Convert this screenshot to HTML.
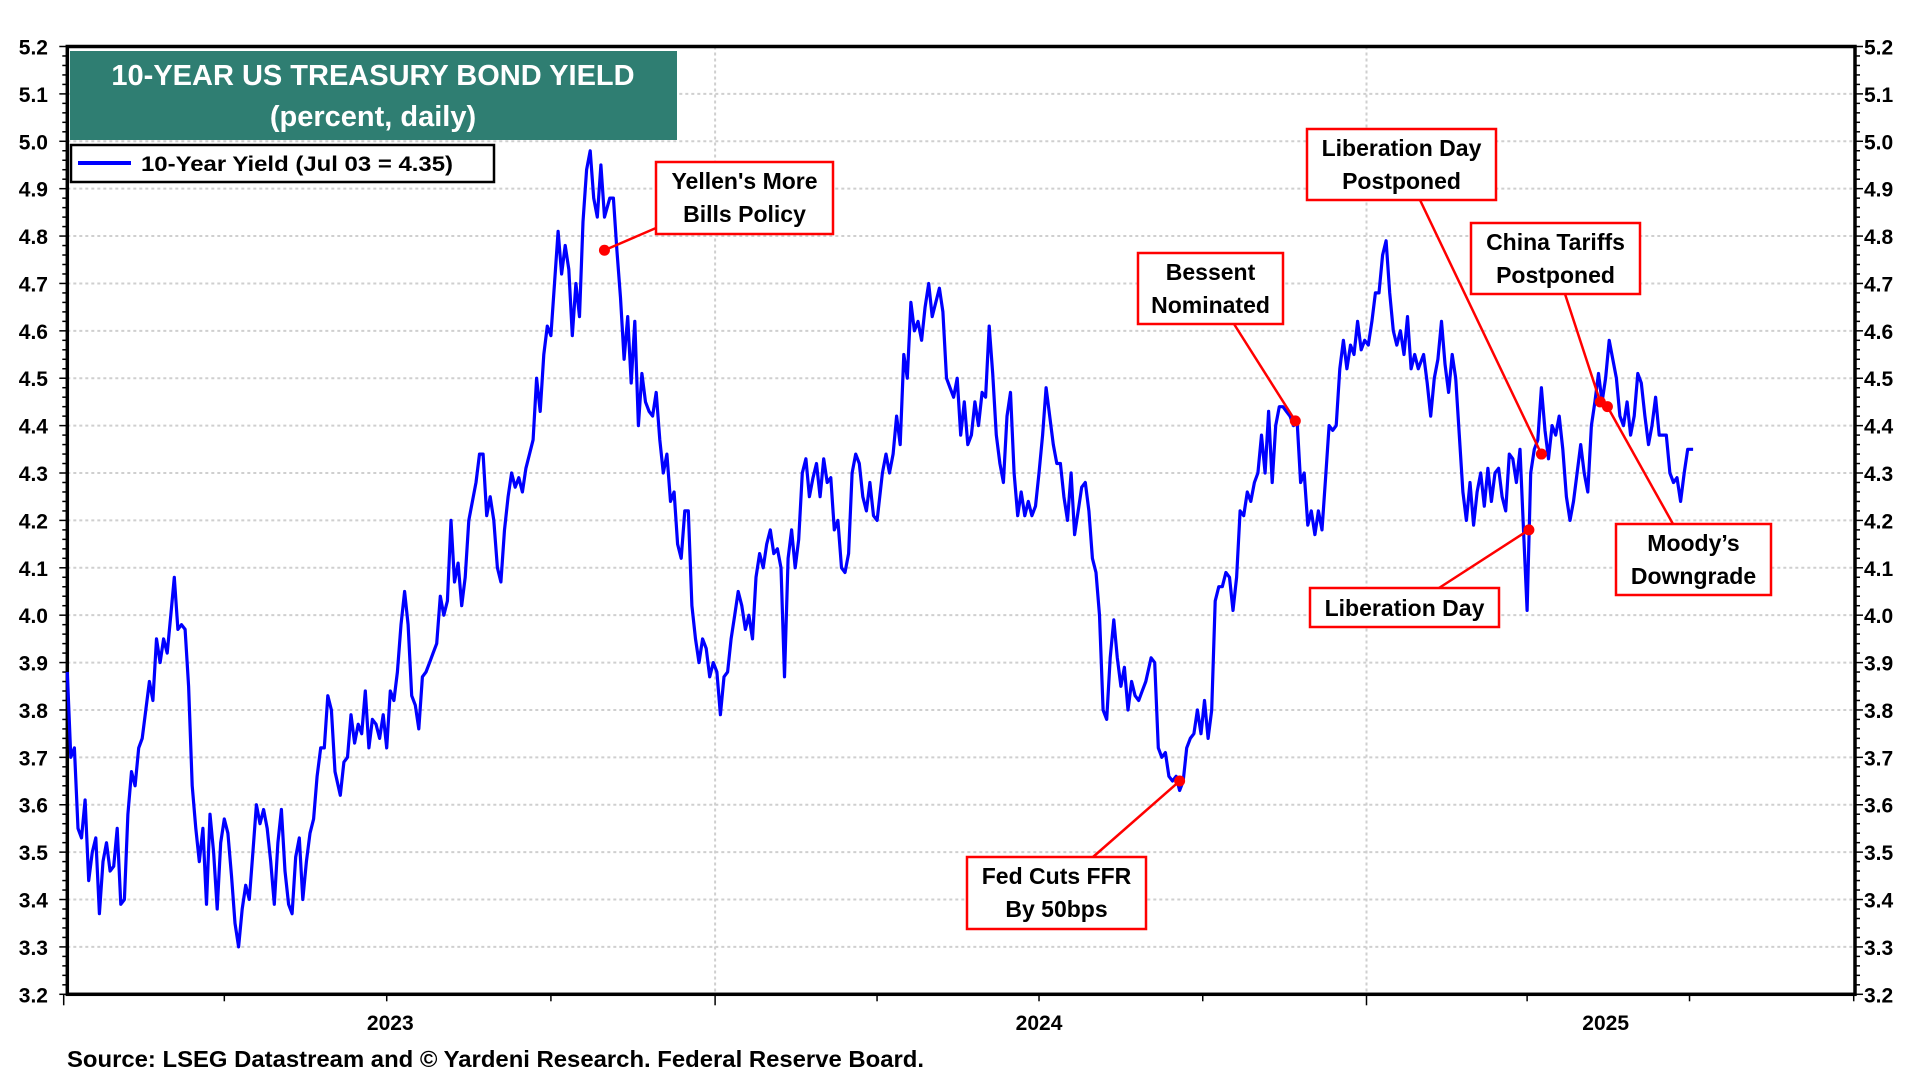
<!DOCTYPE html>
<html><head><meta charset="utf-8"><style>
html,body{margin:0;padding:0;background:#fff;}
svg{display:block;font-family:"Liberation Sans",Arial,sans-serif;}
</style></head><body>
<svg id="chart" width="1920" height="1080" viewBox="0 0 1920 1080">
<g id="grid"></g>
<g id="axes"></g>
<g id="series"></g>
<g id="notes"></g>
<rect x="70" y="51" width="607" height="89" fill="#2f7e72"/>
<text x="373" y="85" text-anchor="middle" fill="#fff" font-size="29" font-weight="bold">10-YEAR US TREASURY BOND YIELD</text>
<text x="373" y="126" text-anchor="middle" fill="#fff" font-size="29" font-weight="bold">(percent, daily)</text>
<g>
<rect x="71" y="145" width="423" height="37" fill="#fff" stroke="#000" stroke-width="2.5"/>
<line x1="78" y1="163" x2="131" y2="163" stroke="#0000ff" stroke-width="4"/>
<text x="141" y="171" font-size="21" font-weight="bold" textLength="312" lengthAdjust="spacingAndGlyphs">10-Year Yield (Jul 03 = 4.35)</text>
</g>
<text x="67" y="1067" font-size="23" font-weight="bold" textLength="857" lengthAdjust="spacingAndGlyphs">Source: LSEG Datastream and © Yardeni Research. Federal Reserve Board.</text>
</svg>
<script>
const startDate = '2023-01-03';
const endDate = '2025-07-03';
const yieldValues = [3.88,3.70,3.72,3.55,3.53,3.61,3.44,3.50,3.53,3.37,3.48,3.52,3.46,3.47,3.55,3.39,3.40,3.58,3.67,3.64,3.72,3.74,3.80,3.86,3.82,3.95,3.90,3.95,3.92,4.00,4.08,3.97,3.98,3.97,3.85,3.64,3.55,3.48,3.55,3.39,3.58,3.50,3.38,3.52,3.57,3.54,3.45,3.35,3.30,3.38,3.43,3.40,3.50,3.60,3.56,3.59,3.55,3.48,3.39,3.52,3.59,3.46,3.39,3.37,3.49,3.53,3.40,3.48,3.54,3.57,3.66,3.72,3.72,3.83,3.80,3.67,3.62,3.69,3.70,3.79,3.73,3.77,3.75,3.84,3.72,3.78,3.77,3.74,3.79,3.72,3.84,3.82,3.88,3.98,4.05,3.98,3.83,3.81,3.76,3.87,3.88,3.90,3.92,3.94,4.04,4.00,4.03,4.20,4.07,4.11,4.02,4.08,4.20,4.24,4.28,4.34,4.34,4.21,4.25,4.20,4.10,4.07,4.18,4.25,4.30,4.27,4.29,4.26,4.31,4.34,4.37,4.50,4.43,4.55,4.61,4.59,4.70,4.81,4.72,4.78,4.73,4.59,4.70,4.63,4.83,4.94,4.98,4.88,4.84,4.95,4.84,4.88,4.88,4.77,4.67,4.54,4.63,4.49,4.62,4.40,4.51,4.45,4.43,4.42,4.47,4.37,4.30,4.34,4.24,4.26,4.15,4.12,4.22,4.22,4.02,3.95,3.90,3.95,3.93,3.87,3.90,3.88,3.79,3.87,3.88,3.95,4.00,4.05,4.02,3.97,4.00,3.95,4.08,4.13,4.10,4.15,4.18,4.13,4.14,4.10,3.87,4.12,4.18,4.10,4.16,4.30,4.33,4.25,4.29,4.32,4.25,4.33,4.28,4.29,4.18,4.20,4.10,4.09,4.13,4.30,4.34,4.32,4.25,4.22,4.28,4.21,4.20,4.30,4.34,4.30,4.34,4.42,4.36,4.55,4.50,4.66,4.60,4.62,4.58,4.65,4.70,4.63,4.66,4.69,4.64,4.50,4.48,4.46,4.50,4.38,4.45,4.36,4.38,4.45,4.40,4.47,4.46,4.61,4.51,4.38,4.32,4.28,4.42,4.47,4.30,4.21,4.26,4.21,4.24,4.21,4.23,4.30,4.38,4.48,4.42,4.36,4.32,4.32,4.25,4.20,4.30,4.17,4.22,4.27,4.28,4.22,4.12,4.09,4.00,3.80,3.78,3.91,3.99,3.91,3.85,3.89,3.80,3.86,3.83,3.82,3.84,3.86,3.91,3.90,3.72,3.70,3.71,3.66,3.65,3.66,3.63,3.65,3.72,3.74,3.75,3.80,3.75,3.82,3.74,3.80,4.03,4.06,4.06,4.09,4.08,4.01,4.08,4.22,4.21,4.26,4.24,4.28,4.30,4.38,4.30,4.43,4.28,4.40,4.44,4.44,4.43,4.42,4.40,4.41,4.28,4.30,4.19,4.22,4.17,4.22,4.18,4.29,4.40,4.39,4.40,4.52,4.58,4.52,4.57,4.55,4.62,4.56,4.58,4.57,4.62,4.68,4.68,4.76,4.79,4.68,4.60,4.57,4.60,4.55,4.63,4.52,4.55,4.52,4.55,4.49,4.42,4.50,4.54,4.62,4.53,4.47,4.55,4.50,4.38,4.26,4.20,4.28,4.19,4.26,4.30,4.23,4.31,4.24,4.30,4.31,4.25,4.22,4.34,4.33,4.28,4.35,4.18,4.01,4.30,4.35,4.37,4.48,4.39,4.33,4.40,4.38,4.42,4.35,4.25,4.20,4.24,4.30,4.36,4.30,4.26,4.40,4.45,4.51,4.45,4.50,4.58,4.54,4.50,4.42,4.40,4.45,4.38,4.42,4.51,4.49,4.42,4.36,4.40,4.46,4.38,4.38,4.38,4.30,4.28,4.29,4.24,4.30,4.35,4.35];
const yTicks = [3.2,3.3,3.4,3.5,3.6,3.7,3.8,3.9,4.0,4.1,4.2,4.3,4.4,4.5,4.6,4.7,4.8,4.9,5.0,5.1,5.2];
const yearLabels = ['2023','2024','2025'];
const yearLabelDates = ['2023-07-03','2024-07-01','2025-05-15'];
const gridDates = ['2024-01-01','2025-01-01'];
const annotationDates = ['2023-10-31','2024-09-18','2024-11-22','2025-04-02','2025-04-09','2025-05-12','2025-05-16'];
const annotationValues = [4.77,3.65,4.41,4.18,4.34,4.45,4.44];

const NS='http://www.w3.org/2000/svg';
const L=67.3,R=1855,T=46.5,B=994.3,Y0=3.2,Y1=5.2;
const X2023=63.7,PXY=651.4;
function yearFrac(d){const t=new Date(d+'T00:00:00Z');const y=t.getUTCFullYear();const s=Date.UTC(y,0,1),e=Date.UTC(y+1,0,1);return y+(t-s)/(e-s);}
function xScale(d){return X2023+(yearFrac(d)-2023)*PXY;}
function yScale(v){return B-(v-Y0)/(Y1-Y0)*(B-T);}
function mk(tag,attrs,parent,text){const e=document.createElementNS(NS,tag);for(const k in attrs)e.setAttribute(k,attrs[k]);if(text!==undefined)e.textContent=text;parent.appendChild(e);return e;}
const grid=document.getElementById('grid'),axes=document.getElementById('axes'),series=document.getElementById('series'),notes=document.getElementById('notes');

yTicks.forEach(v=>{
  const y=yScale(v);
  if(v>Y0&&v<Y1){const g=mk('line',{x1:L,x2:R,y1:y,y2:y,stroke:'#cfcfcf','stroke-width':2,'stroke-dasharray':'3,3'},grid);
  
  }
  const a=mk('text',{x:48,y:y+8,'text-anchor':'end','font-size':21,'font-weight':'bold'},axes,v.toFixed(1));
  
  
  const b=mk('text',{x:1864,y:y+8,'text-anchor':'start','font-size':21,'font-weight':'bold'},axes,v.toFixed(1));
  
  
});
for(let v=Y0;v<=Y1+1e-9;v+=0.02){
  const y=yScale(v);const major=Math.abs(v*10-Math.round(v*10))<1e-6;const len=major?8:5;
  mk('line',{x1:L-len,x2:L,y1:y,y2:y,stroke:'#000','stroke-width':1.5},axes);
  mk('line',{x1:R,x2:R+len,y1:y,y2:y,stroke:'#000','stroke-width':1.5},axes);
}
gridDates.forEach(d=>{const x=xScale(d);
  const g=mk('line',{x1:x,x2:x,y1:T,y2:B,stroke:'#cfcfcf','stroke-width':2,'stroke-dasharray':'3,3'},grid);
  
  
});
for(let q=0;q<12;q++){const yr=2023+Math.floor(q/4),m=(q%4)*3+1;const d=yr+'-'+String(m).padStart(2,'0')+'-01';const x=xScale(d);
  mk('line',{x1:x,x2:x,y1:B,y2:B+(m===1?11:7),stroke:'#000','stroke-width':1.5},axes);}
yearLabels.forEach((s,i)=>{const t=mk('text',{x:xScale(yearLabelDates[i]),y:1030,'text-anchor':'middle','font-size':21,'font-weight':'bold'},axes,s);
  
  });
const frame=mk('rect',{x:L,y:T,width:R-L,height:B-T,fill:'none',stroke:'#000','stroke-width':3.5},axes);



const s0=Date.parse(startDate+'T00:00:00Z'),s1=Date.parse(endDate+'T00:00:00Z');
const n=yieldValues.length;
const pts=yieldValues.map((v,i)=>{const d=new Date(s0+(s1-s0)*i/(n-1)).toISOString().slice(0,10);return xScale(d).toFixed(1)+','+yScale(v).toFixed(1);});
const line=mk('polyline',{points:pts.join(' '),fill:'none',stroke:'#0000ff','stroke-width':3.2,'stroke-linejoin':'round'},series);



const boxes=[
 {x:656,y:162,w:177,h:72,t:["Yellen's More","Bills Policy"],ax:656,ay:228,n:'yellen'},
 {x:967,y:857,w:179,h:72,t:["Fed Cuts FFR","By 50bps"],ax:1093,ay:857,n:'fed-cuts'},
 {x:1138,y:253,w:145,h:71,t:["Bessent","Nominated"],ax:1234,ay:324,n:'bessent'},
 {x:1310,y:588,w:189,h:39,t:["Liberation Day"],ax:1439,ay:588,n:'liberation-day'},
 {x:1307,y:129,w:189,h:71,t:["Liberation Day","Postponed"],ax:1420,ay:200,n:'liberation-postponed'},
 {x:1471,y:223,w:169,h:71,t:["China Tariffs","Postponed"],ax:1565,ay:294,n:'china-tariffs'},
 {x:1616,y:524,w:155,h:71,t:["Moody’s","Downgrade"],ax:1673,ay:524,n:'moodys'}
];
boxes.forEach((b,i)=>{
  const px=xScale(annotationDates[i]),py=yScale(annotationValues[i]);
  const g=mk('g',{},notes);
  
  
  mk('line',{x1:px,y1:py,x2:b.ax,y2:b.ay,stroke:'#ff0000','stroke-width':2.5},g);
  mk('circle',{cx:px,cy:py,r:5.5,fill:'#ff0000'},g);
  mk('rect',{x:b.x,y:b.y,width:b.w,height:b.h,fill:'#fff',stroke:'#ff0000','stroke-width':2.5},g);
  b.t.forEach((s,k)=>{const ty=b.t.length===1?b.y+28:b.y+27+k*33;
    mk('text',{x:b.x+b.w/2,y:ty,'text-anchor':'middle','font-size':23,'font-weight':'bold'},g,s);});
});
</script>
</body></html>
